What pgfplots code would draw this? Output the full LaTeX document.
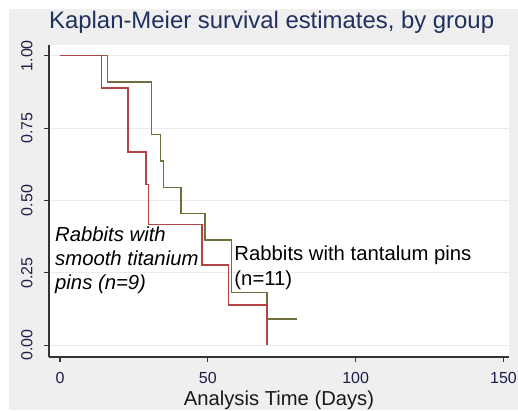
\documentclass[border=0pt]{standalone}
\usepackage{fontspec}
\setmainfont{Liberation Sans}
\usepackage{pgfplots}
\pgfplotsset{compat=1.18}
\definecolor{bggray}{RGB}{239,239,239}
\definecolor{gridgray}{RGB}{234,234,234}
\definecolor{kmred}{RGB}{178,68,70}
\definecolor{kmolive}{RGB}{112,112,62}
\definecolor{titlenavy}{RGB}{32,48,96}
\definecolor{ticknavy}{RGB}{28,30,72}
\begin{document}
\begin{tikzpicture}
\useasboundingbox (0,0) rectangle (518pt,410pt);
\clip (0,0) rectangle (518pt,410pt);
\fill[white] (0,0) rectangle (518pt,410pt);
\fill[bggray] (9pt,0) rectangle (518pt,401pt);
\fill[white] (49pt,53pt) rectangle (509pt,365pt);
\begin{axis}[
  scale only axis,
  width=460pt, height=312pt,
  at={(49pt,53pt)}, anchor=south west,
  xmin=-3.72, xmax=151.85,
  ymin=-0.0404, ymax=1.037,
  axis x line*=bottom, axis y line*=left,
  axis line style={line width=1.2pt, color=black!80},
  tick align=outside,
  major tick length=5pt,
  tick style={line width=1.1pt, color=black!80},
  xtick={0,50,100,150},
  ytick={0,0.25,0.5,0.75,1},
  yticklabel style={/pgf/number format/fixed, /pgf/number format/fixed zerofill, /pgf/number format/precision=2, xshift=-8pt, rotate=90, anchor=south},
  xticklabel style={yshift=-7pt},
  /pgf/number format/assume math mode=true,
  ticklabel style={font=\fontsize{16}{18}\selectfont, color=ticknavy},
  ymajorgrids,
  grid style={line width=1pt, color=gridgray},
  title={Kaplan-Meier survival estimates, by group},
  title style={at={(axis description cs:0.484,1)}, anchor=base, yshift=10pt, font=\fontsize{23.9}{26}\selectfont, color=titlenavy},
  xlabel={Analysis Time (Days)},
  xlabel style={at={(axis description cs:0.5,0)}, anchor=base, yshift=-48.5pt, font=\fontsize{20.2}{24}\selectfont, color=black!90},
  clip=false,
]
\addplot[const plot mark left, color=kmolive, line width=1.5pt] coordinates {
  (0,1) (16,0.9091) (31,0.7273) (34,0.6364) (35,0.5455) (41,0.4545) (49,0.3636) (58,0.1818) (70,0.0909) (80,0.0909)
};
\addplot[const plot mark left, color=kmred, line width=1.5pt] coordinates {
  (0,1) (14,0.8889) (23,0.6667) (29,0.5556) (30,0.4167) (48,0.2778) (57,0.1389) (70,0)
};
\node[anchor=base west, inner sep=0pt, font=\fontsize{20.3}{24}\selectfont\itshape] at (axis cs:-1.69,0.358) {Rabbits with};
\node[anchor=base west, inner sep=0pt, font=\fontsize{20.3}{24}\selectfont\itshape] at (axis cs:-1.69,0.2756) {smooth titanium};
\node[anchor=base west, inner sep=0pt, font=\fontsize{20.3}{24}\selectfont\itshape] at (axis cs:-1.69,0.1927) {pins (n=9)};
\node[anchor=base west, inner sep=0pt, font=\fontsize{20.3}{24}\selectfont] at (axis cs:58.94,0.292) {Rabbits with tantalum pins};
\node[anchor=base west, inner sep=0pt, font=\fontsize{20.3}{24}\selectfont] at (axis cs:58.94,0.2075) {(n=11)};
\end{axis}
\end{tikzpicture}
\end{document}
